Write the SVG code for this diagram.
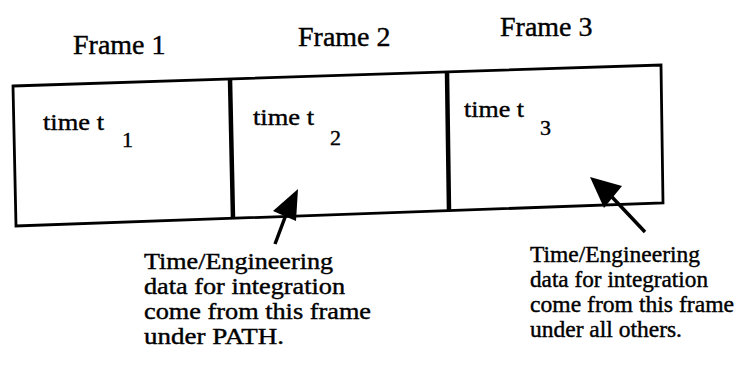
<svg xmlns="http://www.w3.org/2000/svg" width="737" height="372" viewBox="0 0 737 372">
<style>
.t{font-family:"Liberation Serif","Times New Roman",serif;fill:#000;stroke:#000;stroke-width:0.4}
.title{font-size:28px}
.lbl{font-size:24px}
.sub{font-size:22px}
.ann{font-size:22.5px}
.edge{fill:none;stroke:#000;stroke-width:2.8;stroke-linejoin:miter}
.div{fill:none;stroke:#000;stroke-width:4.5}
.arr{fill:none;stroke:#000;stroke-width:3.5}
</style>
<rect width="737" height="372" fill="#fff"/>
<g id="frame1">
<text class="t title" x="73" y="54">Frame 1</text>
<text class="t lbl" x="43" y="130" textLength="61" lengthAdjust="spacingAndGlyphs">time t</text>
<text class="t sub" x="122" y="147">1</text>
</g>
<g id="frame2">
<text class="t title" x="298" y="46">Frame 2</text>
<text class="t lbl" x="253" y="125" textLength="61" lengthAdjust="spacingAndGlyphs">time t</text>
<text class="t sub" x="330" y="145">2</text>
</g>
<g id="frame3">
<text class="t title" x="500" y="36">Frame 3</text>
<text class="t lbl" x="464" y="117" textLength="60" lengthAdjust="spacingAndGlyphs">time t</text>
<text class="t sub" x="540" y="135">3</text>
</g>
<g id="box">
<path class="edge" d="M13,86 L661,65 L663,203 L16,226 Z"/>
<path class="div" d="M230,79 L233,219"/>
<path class="div" d="M447,72 L449,211"/>
</g>
<g id="note-path">
<text class="t ann" x="144" y="269" textLength="189" lengthAdjust="spacingAndGlyphs">Time/Engineering</text>
<text class="t ann" x="144" y="294" textLength="201" lengthAdjust="spacingAndGlyphs">data for integration</text>
<text class="t ann" x="144" y="319" textLength="227" lengthAdjust="spacingAndGlyphs">come from this frame</text>
<text class="t ann" x="144" y="344" textLength="140" lengthAdjust="spacingAndGlyphs">under PATH.</text>
</g>
<g id="note-others">
<text class="t ann" x="530" y="262" textLength="170" lengthAdjust="spacingAndGlyphs">Time/Engineering</text>
<text class="t ann" x="530" y="287" textLength="178" lengthAdjust="spacingAndGlyphs">data for integration</text>
<text class="t ann" x="530" y="312" textLength="204" lengthAdjust="spacingAndGlyphs">come from this frame</text>
<text class="t ann" x="530" y="337" textLength="152" lengthAdjust="spacingAndGlyphs">under all others.</text>
</g>
<g id="connectors">
<path d="M275,244 L287,212" class="arr"/>
<path d="M298,189 L273,211 L296,221 Z" fill="#000"/>
<path d="M645,232 L612,197" class="arr"/>
<path d="M590,177 L622,186 L604,208 Z" fill="#000"/>
</g>
</svg>
